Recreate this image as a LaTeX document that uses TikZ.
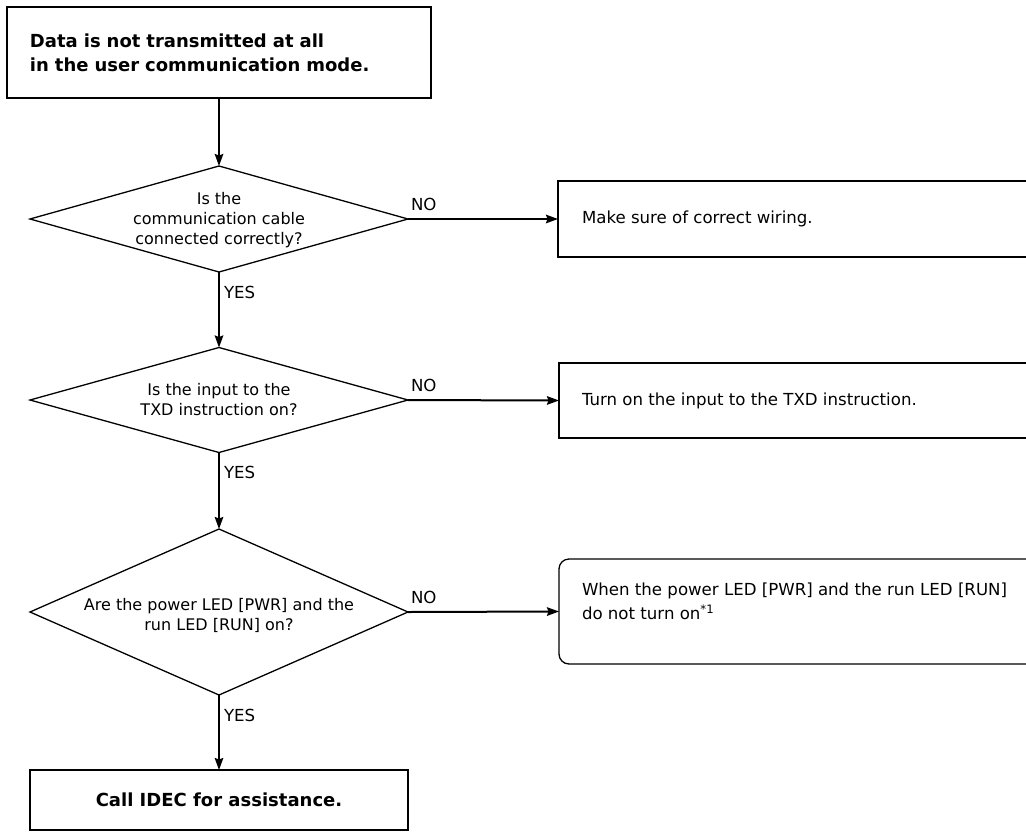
\documentclass[tikz,border=0pt]{standalone}
\usepackage{fontspec}
\setmainfont{DejaVu Sans}
\usetikzlibrary{shapes.geometric,arrows.meta}
\begin{document}
\begin{tikzpicture}[x=1pt,y=-1pt,
  every node/.style={inner sep=0pt, outer sep=0pt},
  reg/.style={font=\fontsize{16.6}{20}\selectfont},
  boldbox/.style={draw, line width=2.2pt, font=\fontsize{18}{24}\selectfont\bfseries},
  sqbox/.style={draw, line width=2.2pt},
  rbox/.style={draw, line width=1.3pt, rounded corners=10pt},
  dia/.style={draw, diamond, line width=1.3pt, minimum width=378pt},
  dtext/.style={align=center, font=\fontsize{16}{20}\selectfont},
  arr/.style={line width=2pt, -{Stealth[length=12pt,width=8.5pt,inset=1.5pt]}},
  lbl/.style={font=\fontsize{16.6}{20}\selectfont}
]
\useasboundingbox (0,0) rectangle (1026,831);
\clip (0,0) rectangle (1026,831);

% start box
\node[boldbox, minimum width=424pt, minimum height=91pt, text width=378pt, align=left] (top) at (219,52.5)
  {Data is not transmitted at all\\in the user communication mode.};

% decisions
\node[dia, minimum height=106pt] (d1) at (219,219) {};
\node[dtext] (t1) at (219,220) {Is the\\communication cable\\connected correctly?};

\node[dia, minimum height=105pt] (d2) at (219,400) {};
\node[dtext] (t2) at (219,400) {Is the input to the\\TXD instruction on?};

\node[dia, minimum height=166pt] (d3) at (219,612) {};
\node[dtext] (t3) at (219,615) {Are the power LED [PWR] and the\\run LED [RUN] on?};

% end box
\node[boldbox, minimum width=378pt, minimum height=60pt] (end) at (219,800) {Call IDEC for assistance.};

% right boxes
\node[sqbox, minimum width=500pt, minimum height=76pt, anchor=west] (r1) at (558,219) {};
\node[reg, anchor=west] (r1t) at (582,219) {Make sure of correct wiring.};

\node[sqbox, minimum width=500pt, minimum height=75pt, anchor=west] (r2) at (559,400.5) {};
\node[reg, anchor=west] (r2t) at (582,400.5) {Turn on the input to the TXD instruction.};

\node[rbox, minimum width=500pt, minimum height=105pt, anchor=west] (r3) at (559,611.5) {};
\node[anchor=north west, align=left, font=\fontsize{16.6}{24}\selectfont] (r3t) at (582,583)
  {When the power LED [PWR] and the run LED [RUN]\\do not turn on\textsuperscript{*1}};

% connectors
\draw[arr] (top.south) -- (d1.north);
\draw[arr] (d1.south) -- (d2.north);
\draw[arr] (d2.south) -- (d3.north);
\draw[arr] (d3.south) -- (end.north);
\draw[arr] (d1.east) -- (r1.west);
\draw[arr] (d2.east) -- (r2.west);
\draw[arr] (d3.east) -- (r3.west);

% labels
\node[lbl, anchor=south west] (n1) at ([xshift=3pt,yshift=8pt]d1.east) {NO};
\node[lbl, anchor=south west] (n2) at ([xshift=3pt,yshift=8pt]d2.east) {NO};
\node[lbl, anchor=south west] (n3) at ([xshift=3pt,yshift=8pt]d3.east) {NO};
\node[lbl, anchor=north west] (y1) at ([xshift=5pt,yshift=-14pt]d1.south) {YES};
\node[lbl, anchor=north west] (y2) at ([xshift=5pt,yshift=-14pt]d2.south) {YES};
\node[lbl, anchor=north west] (y3) at ([xshift=5pt,yshift=-14pt]d3.south) {YES};
\end{tikzpicture}
\end{document}
